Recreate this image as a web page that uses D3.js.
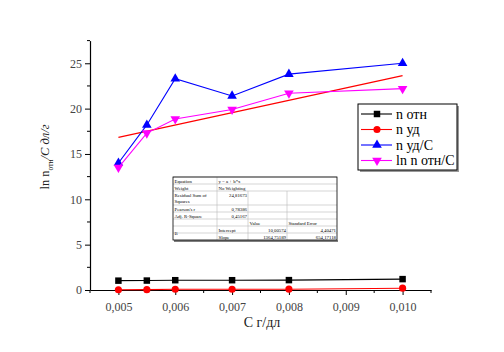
<!DOCTYPE html>
<html>
<head>
<meta charset="utf-8">
<script src="https://cdn.jsdelivr.net/npm/d3@7"></script>
<style>
  body { margin: 0; background: #fff; }
  svg text { font-family: "Liberation Serif", "Times New Roman", "DejaVu Serif", serif !important; }
</style>
</head>
<body>
<div id="chart"></div>
<script>
// concentration, g/dl
const concentrations = [0.005, 0.0055, 0.006, 0.007, 0.008, 0.010];
const nRel = [1.03, 1.04, 1.08, 1.08, 1.09, 1.2];
const nSp = [0.03, 0.04, 0.08, 0.08, 0.09, 0.2];
const nSpC = [14.0, 18.2, 23.3, 21.4, 23.8, 25.0];
const lnRelC = [13.5, 17.3, 18.85, 19.9, 21.7, 22.2];
// linear fit end points
const fitX = [0.005, 0.010];
const fitY = [16.82, 23.64];

const xMajor = [0.005, 0.006, 0.007, 0.008, 0.009, 0.010];
const yMajor = [0, 5, 10, 15, 20, 25];

const fitRows = [
    ['Equation', 'y = a + b*x', '', ''],
    ['Weight', 'No Weighting', '', ''],
    ['Residual Sum of Squares', '24,81673', '', ''],
    ["Pearson's r", '0,78386', '', ''],
    ['Adj. R-Square', '0,45167', '', ''],
    ['', '', 'Value', 'Standard Error'],
    ['B', 'Intercept', '10,00574', '4,40471'],
    ['', 'Slope', '1364,75189', '654,17118']
];

const width = 504, height = 352;
const svg = d3.select('#chart').append('svg')
    .attr('width', width)
    .attr('height', height)
    .attr('font-family', 'Liberation Serif, serif');

const x = d3.scaleLinear().domain([0.0045, 0.0105]).range([90, 431]);
const y = d3.scaleLinear().domain([0, 27.5]).range([290, 40.6]);
const fmt = d => d3.format('.3f')(d).replace('.', ',');

// minor ticks
const xMinor = d3.range(0.0045, 0.01051, 0.0005).filter(v => !xMajor.some(m => Math.abs(m - v) < 1e-7));
const yMinor = d3.range(2.5, 27.6, 5);

const xAxis = svg.append('g').attr('transform', 'translate(0,290)');
xAxis.call(d3.axisBottom(x).tickValues(xMajor).tickFormat(fmt).tickSize(5).tickSizeOuter(0));
svg.append('g').selectAll('line').data(xMinor).enter().append('line')
    .attr('x1', d => x(d)).attr('x2', d => x(d))
    .attr('y1', 290).attr('y2', 293).attr('stroke', '#000');

const yAxis = svg.append('g').attr('transform', 'translate(90,0)');
yAxis.call(d3.axisLeft(y).tickValues(yMajor).tickSize(5).tickSizeOuter(0));
svg.append('g').selectAll('line').data(yMinor).enter().append('line')
    .attr('x1', 87).attr('x2', 90)
    .attr('y1', d => y(d)).attr('y2', d => y(d)).attr('stroke', '#000');

[xAxis, yAxis].forEach(g => {
    g.attr('font-family', 'Liberation Serif, serif');
    g.selectAll('text').attr('font-size', 12).attr('fill', '#444');
    g.select('.domain').attr('stroke-width', 1.2);
});
xAxis.selectAll('text').attr('dy', '1.1em');

// axis titles
svg.append('text')
    .attr('x', 262).attr('y', 327)
    .attr('text-anchor', 'middle').attr('font-size', 14).attr('fill', '#222')
    .text('C г/дл');

const yt = svg.append('text')
    .attr('transform', 'translate(49,157) rotate(-90)')
    .attr('text-anchor', 'middle').attr('font-size', 12.5).attr('fill', '#222');
yt.append('tspan').text('ln n');
yt.append('tspan').attr('font-size', 7.5).attr('dy', 4).text('отн');
yt.append('tspan').attr('dy', -4).attr('font-style', 'italic').text('/C дл/г');

// series
const series = [
    { name: 'n отн', values: nRel, color: '#000', symbol: d3.symbolSquare, size: 42, rot: 0 },
    { name: 'n уд', values: nSp, color: '#ff0000', symbol: d3.symbolCircle, size: 40, rot: 0 },
    { name: 'n уд/C', values: nSpC, color: '#0000ff', symbol: d3.symbolTriangle, size: 40, rot: 0 },
    { name: 'ln n отн/C', values: lnRelC, color: '#ff00ff', symbol: d3.symbolTriangle, size: 40, rot: 180 }
];

const line = d3.line().x(d => x(d[0])).y(d => y(d[1]));

// fit line
svg.append('path')
    .attr('d', line(d3.zip(fitX, fitY)))
    .attr('fill', 'none').attr('stroke', '#ff0000').attr('stroke-width', 1.2);

series.forEach(s => {
    const pts = d3.zip(concentrations, s.values);
    svg.append('path')
        .attr('d', line(pts))
        .attr('fill', 'none').attr('stroke', s.color).attr('stroke-width', 1.1);
    svg.append('g').selectAll('path').data(pts).enter().append('path')
        .attr('d', d3.symbol().type(s.symbol).size(s.size))
        .attr('transform', d => `translate(${x(d[0])},${y(d[1])}) rotate(${s.rot})`)
        .attr('fill', s.color);
});

// legend
const lg = svg.append('g').attr('transform', 'translate(358,104)');
lg.append('rect').attr('x', 2).attr('y', 2).attr('width', 99).attr('height', 66).attr('fill', '#999');
lg.append('rect').attr('width', 99).attr('height', 66).attr('fill', '#fff').attr('stroke', '#000');
series.forEach((s, i) => {
    const cy = 10 + i * 15.5;
    lg.append('line').attr('x1', 3).attr('x2', 34).attr('y1', cy).attr('y2', cy)
        .attr('stroke', s.color).attr('stroke-width', 1.1);
    lg.append('path')
        .attr('d', d3.symbol().type(s.symbol).size(s.size)())
        .attr('transform', `translate(19,${cy}) rotate(${s.rot})`)
        .attr('fill', s.color);
    lg.append('text').attr('x', 38).attr('y', cy + 4.5)
        .attr('font-size', 14).attr('fill', '#000').text(s.name);
});

// fit result table
const colX = [173, 217, 248, 287, 337];
const rowH = [7, 7, 14, 7, 7, 7, 7, 7];
const tb = svg.append('g');
let ty = 177;
fitRows.forEach((r, i) => {
    const h = rowH[i];
    tb.append('line').attr('x1', colX[0]).attr('x2', colX[4]).attr('y1', ty).attr('y2', ty)
        .attr('stroke', '#bbb').attr('stroke-width', 0.6);
    const span = i < 2;
    colX.slice(1, span ? 2 : 4).forEach(cx => {
        tb.append('line').attr('x1', cx).attr('x2', cx).attr('y1', ty).attr('y2', ty + h)
            .attr('stroke', '#bbb').attr('stroke-width', 0.6);
    });
    r.forEach((t, j) => {
        if (!t) return;
        const right = (j === 1 && i >= 2 && i <= 4) || (j >= 2 && i >= 6);
        const txt = tb.append('text')
            .attr('font-size', 4.8).attr('fill', '#000')
            .attr('x', right ? colX[j + 1] - 1 : colX[j] + 1.5)
            .attr('text-anchor', right ? 'end' : 'start');
        if (i === 2 && j === 0) {
            txt.attr('y', ty + 5.5).text('Residual Sum of');
            tb.append('text').attr('font-size', 4.8).attr('x', colX[0] + 1.5).attr('y', ty + 12).text('Squares');
        } else if (i === 6 && j === 0) {
            txt.attr('y', ty + 9).text(t);
        } else {
            txt.attr('y', ty + 5.5).text(t);
        }
    });
    ty += h;
});
tb.append('rect').attr('x', colX[0]).attr('y', 177).attr('width', colX[4] - colX[0]).attr('height', ty - 177)
    .attr('fill', 'none').attr('stroke', '#000').attr('stroke-width', 0.8);
tb.append('line').attr('x1', colX[0] + 1).attr('x2', colX[4] + 1).attr('y1', ty + 1).attr('y2', ty + 1)
    .attr('stroke', '#000').attr('stroke-width', 1);
</script>
</body>
</html>
